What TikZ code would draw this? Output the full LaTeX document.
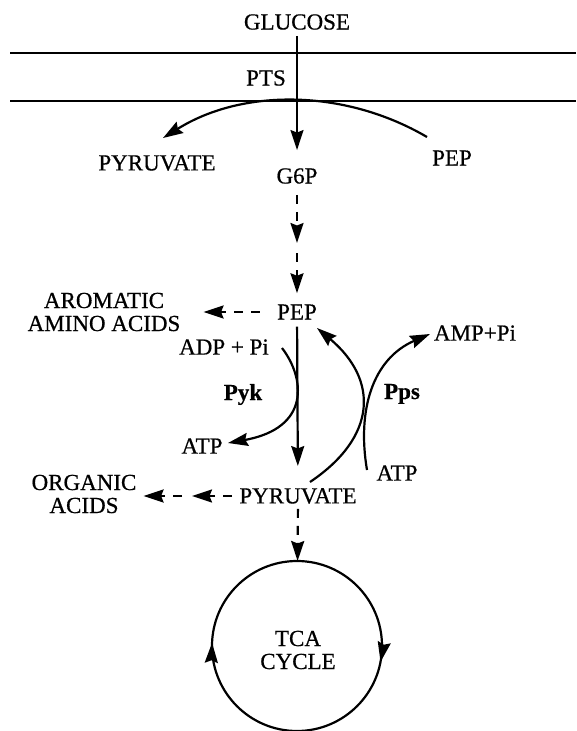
\documentclass[tikz,border=0pt]{standalone}
\usepackage{fontspec}
\setmainfont{Liberation Serif}[FakeBold=0.6]
\usetikzlibrary{arrows.meta,decorations.markings}

\tikzset{
  >={Stealth[length=20pt,width=13pt,inset=2.5pt]},
  lbl/.style={font=\fontsize{23}{23}\selectfont, inner sep=0pt, align=center},
  enz/.style={lbl, font=\fontsize{23}{23}\selectfont\bfseries, anchor=base},
  mem/.style={line width=2.2pt},
  flux/.style={line width=2.2pt, ->},
  dflux/.style={flux, dash pattern=on 9pt off 8pt},
}

\begin{document}
\begin{tikzpicture}[x=1pt,y=1pt]
			%%%%% START %%%%%
			\useasboundingbox (0,0) rectangle (576,-731);
			
			% membrane
			\draw[mem] (10, -53) -- (576, -53);
			\draw[mem] (10, -101) -- (576, -101);
			
			\node[lbl] (glu) at (297, -22) {GLUCOSE};
			\node[lbl] (pts) at (266, -78) {PTS};
			\node[lbl] (pyr1) at (157, -163) {PYRUVATE};
			\node[lbl] (g6p) at (297, -176) {G6P};
			\node[lbl] (pep1) at (452, -158) {PEP};
			
			\node[lbl] (pep2) at (297, -312) {PEP};
			\node[lbl] (arom) at (104, -312) {AROMATIC\\AMINO ACIDS};
			\node[lbl] (adp) at (224, -347) {ADP + Pi};
			\node[enz] (pyk) at (243, -400) {Pyk};
			\node[lbl] (atp1) at (202, -446) {ATP};
			\node[enz] (pps) at (402, -399) {Pps};
			\node[lbl] (amp) at (475, -333) {AMP+Pi};
			\node[lbl] (atp2) at (397, -473) {ATP};
			\node[lbl] (pyr2) at (298, -496) {PYRUVATE};
			\node[lbl] (org) at (84, -494) {ORGANIC\\ACIDS};
			
			\coordinate (tcac) at (297, -646);
			\node[lbl] (tca) at (298, -650) {TCA\\CYCLE};
			
			% glucose uptake
			\draw[flux, shorten <=6pt, shorten >=18pt] (glu) -- (g6p);
			\coordinate (ptsin) at (427, -137);
			\coordinate (ptsout) at (163, -138);
			\draw[flux] (ptsin) .. controls (345, -89) and (243, -88) .. (ptsout);
			
			% G6P to PEP
			\coordinate (gmid) at (297, -243);
			\draw[dflux, shorten <=11pt] (g6p) -- (gmid);
			\draw[dflux, shorten <=10pt, shorten >=11pt] (gmid) -- (pep2);
			\draw[dflux, shorten <=17pt, shorten >=23pt] (pep2.west) -- (arom.east);
			
			% PEP to pyruvate
			\draw[flux, shorten <=7pt, shorten >=22pt] (pep2) -- (pyr2);
			\coordinate (pykin) at (282, -348);
			\coordinate (pykout) at (228, -443);
			\draw[flux] (pykin) .. controls (305, -378) and (311, -428) .. (pykout);
			
			% pyruvate back to PEP
			\coordinate (ppsin) at (310, -482);
			\coordinate (ppsout) at (317, -328);
			\draw[flux] (ppsin) .. controls (377, -437) and (379, -380) .. (ppsout);
			\coordinate (atpin) at (367, -470);
			\coordinate (ampout) at (430, -334);
			\draw[flux] (atpin) .. controls (357, -411) and (372, -359) .. (ampout);
			
			% pyruvate to organic acids
			\coordinate (omid) at (192, -496);
			\draw[dflux, shorten <=7pt] (pyr2.west) -- (omid);
			\draw[dflux, shorten <=10pt, shorten >=7pt] (omid) -- (omid -| org.east);
			
			% TCA cycle
			\draw[dflux, shorten <=5pt, shorten >=85pt] (pyr2) -- (tcac);
			\draw[mem, postaction={decorate}, decoration={markings,
			  mark=at position 0.494 with {\arrowreversed{>}},
			  mark=at position 0.97 with {\arrowreversed{>}}}] (tcac) circle (85);
			%%%%% END %%%%%
\end{tikzpicture}
\end{document}
